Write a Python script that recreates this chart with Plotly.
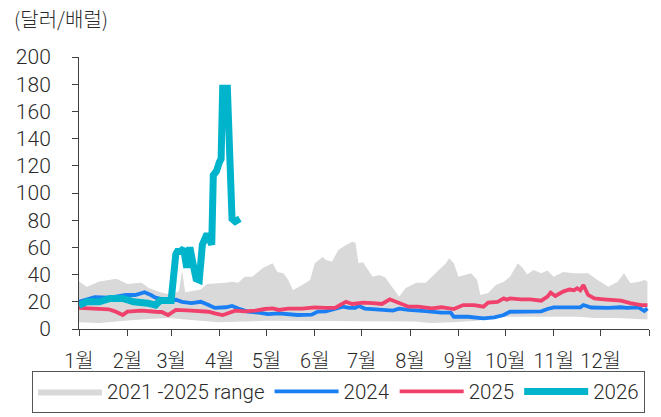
import pandas as pd
import plotly.graph_objects as go

BASE = pd.Timestamp("2026-01-01")

month_labels = ["1월", "2월", "3월", "4월", "5월", "6월", "7월", "8월", "9월", "10월", "11월", "12월"]
y_ticks = [0, 20, 40, 60, 80, 100, 120, 140, 160, 180, 200]

# 2021-2025 range (day-of-year index, values)
range_hi_day = [0, 5, 13, 24, 31, 40, 45, 52, 60, 64, 66, 68, 78, 82, 94, 98, 102, 106, 111, 115, 118,
                124, 127, 131, 134, 137, 143, 148, 151, 156, 158, 162, 166, 171, 175, 177, 179, 182,
                183, 188, 192, 196, 201, 205, 209, 216, 222, 228, 235, 237, 240, 243, 248, 251, 255,
                257, 262, 267, 272, 276, 281, 284, 287, 291, 296, 300, 304, 310, 317, 326, 332, 339,
                345, 349, 353, 358, 362, 364]
range_hi = [35, 31, 35, 37, 33, 34, 30, 27, 25, 28, 43, 27, 29, 33, 34, 34.8, 34, 38.5, 38.5, 42, 45,
            48.4, 42, 41, 36, 28.7, 32.3, 36, 48.4, 53, 51, 49.5, 58, 61.8, 64.2, 63.5, 48.4, 49,
            47, 38.5, 39.7, 38, 30, 23.8, 30, 34, 34, 41, 48.4, 52, 48.4, 38.5, 40, 41, 36,
            25, 26.5, 32.3, 34.8, 38.5, 48.4, 45, 40, 43.4, 41, 43, 38.5, 42, 41, 41, 36, 31,
            34.8, 41, 33.8, 34.5, 36, 35]
range_lo_day = [0, 13, 35, 57, 70, 89, 120, 150, 180, 215, 225, 240, 255, 265, 275, 300, 320, 330, 345, 364]
range_lo = [5, 4.4, 6.6, 8, 6.6, 5, 6, 5.5, 5.5, 5.5, 4.4, 5, 6, 8, 9, 9, 9, 8, 8, 7]

# 2024
y2024_day = [0, 10, 20, 30, 36, 42, 46, 49, 53, 58, 62, 66, 72, 78, 83, 87, 94, 98, 102, 108, 115,
             121, 128, 134, 140, 149, 153, 158, 164, 169, 173, 177, 179, 183, 190, 196, 201, 205,
             211, 222, 232, 238, 240, 249, 253, 259, 266, 272, 276, 281, 287, 296, 300, 304, 313,
             321, 323, 328, 339, 347, 351, 358, 362, 364]
y2024 = [20, 23.5, 23, 25, 25, 27, 25, 23, 22, 21, 21.5, 20, 19, 20, 17.6, 15.5, 16, 17, 15, 12.8, 12,
         11, 11.5, 11, 10.3, 10.5, 12.8, 13, 14.5, 16.4, 15.5, 15.5, 17, 15, 14.5, 14, 13.5, 15,
         14, 13.2, 12, 12, 9, 9, 8.3, 7.8, 8.5, 10.3, 12.7, 12.8, 12.5, 13, 14.7, 15.9, 15.9,
         16, 17.6, 15.8, 15.5, 16, 15.5, 16, 13.2, 15]

# 2025
y2025_day = [0, 10, 19, 23, 28, 31, 40, 49, 53, 57, 62, 72, 83, 87, 92, 94, 100, 106, 113, 119, 124,
             128, 134, 143, 151, 158, 164, 167, 171, 175, 182, 188, 194, 199, 205, 211, 217, 226,
             232, 240, 246, 253, 259, 262, 268, 272, 274, 276, 283, 289, 296, 300, 302, 305, 310,
             314, 317, 319, 321, 323, 326, 330, 336, 342, 347, 353, 360, 364]
y2025 = [15.5, 14.7, 14.5, 13, 10.3, 12.8, 13.5, 12.7, 12.5, 10.3, 14, 13.5, 12.7, 11.5, 10.3, 11,
         13.5, 13, 13.5, 14.7, 15.2, 14, 15, 15, 15.9, 15.5, 15.5, 17.6, 20, 18.4, 19.4, 19, 18.4,
         21.8, 19.4, 16.4, 16.5, 15.2, 16, 14.7, 17.6, 17.6, 16.4, 19.4, 20, 22.5, 21.5, 22.5,
         21.8, 21.8, 20.8, 23.8, 26.7, 24.3, 27.5, 29, 28.5, 30, 28.5, 32.3, 25, 22.5, 21.8, 21.5,
         20.8, 19, 17.6, 17.6]

# 2026
y2026_day = [0, 5, 13, 20, 28, 35, 44, 49, 52, 59, 62, 63, 65, 67, 69, 71, 73, 75, 77, 79, 82, 84,
             85, 86, 88, 90, 91, 92, 95, 98, 100, 103]
y2026 = [17.5, 20, 20, 22.5, 22.5, 20, 19, 17.5, 21, 21, 55, 57, 57, 59, 45, 60, 48, 37, 36, 62, 70,
         62, 62, 113, 116, 123, 125, 177, 177, 81, 79, 81]


def to_dates(days):
    return BASE + pd.to_timedelta(days, unit="D")


FONT = "Roboto, 'Noto Sans CJK KR', sans-serif"
CJK = "'Noto Sans CJK KR', sans-serif"
TXT = "#2a2a2a"

fig = go.Figure()

poly_x = list(to_dates(range_hi_day)) + list(to_dates(range_lo_day))[::-1]
poly_y = list(range_hi) + list(range_lo)[::-1]
fig.add_trace(go.Scatter(x=poly_x, y=poly_y, fill="toself", fillcolor="#d9d9d9",
                         line=dict(width=0, color="#d9d9d9"), mode="lines",
                         name="2021 -2025 range", hoverinfo="skip"))
fig.add_trace(go.Scatter(x=to_dates(y2024_day), y=y2024, mode="lines", name="2024",
                         line=dict(color="#1a7ff2", width=3.8)))
fig.add_trace(go.Scatter(x=to_dates(y2025_day), y=y2025, mode="lines", name="2025",
                         line=dict(color="#f0406c", width=3.8)))
fig.add_trace(go.Scatter(x=to_dates(y2026_day), y=y2026, mode="lines", name="2026",
                         line=dict(color="#00b4cc", width=7)))

tickvals = list(pd.date_range(BASE, BASE + pd.DateOffset(years=1), freq="MS"))
ticktext = month_labels + [""]

fig.update_layout(
    width=661, height=417,
    margin=dict(l=79, r=12, t=57, b=88, autoexpand=False),
    plot_bgcolor="white", paper_bgcolor="white",
    font=dict(family=FONT, size=20, color=TXT, weight=300),
    showlegend=True,
    legend=dict(orientation="h", x=-0.0825, xanchor="left", y=-0.153, yanchor="top",
                bordercolor="#555555", borderwidth=1,
                font=dict(family=FONT, size=20.5, color=TXT, weight=300),
                itemwidth=64, traceorder="normal"),
    annotations=[dict(text="(달러/배럴)", xref="paper", yref="paper", x=-0.118, y=1.14,
                      xanchor="left", yanchor="middle", showarrow=False,
                      font=dict(family=CJK, size=20, color=TXT, weight=300))],
)
fig.update_xaxes(range=[BASE, BASE + pd.DateOffset(years=1)], tickvals=tickvals, ticktext=ticktext,
                 showgrid=False, showline=True, linecolor="#404040", linewidth=1,
                 ticks="outside", ticklen=6, tickcolor="#404040", ticklabelstandoff=8,
                 tickangle=0, automargin=False, tickfont=dict(size=20), zeroline=False)
fig.update_yaxes(range=[0, 200], tickvals=y_ticks, showgrid=False, showline=True,
                 linecolor="#404040", linewidth=1, ticks="outside", ticklen=6,
                 tickcolor="#404040", ticklabelstandoff=17, automargin=False,
                 tickfont=dict(size=21), zeroline=False)

fig.write_html("out.html")
